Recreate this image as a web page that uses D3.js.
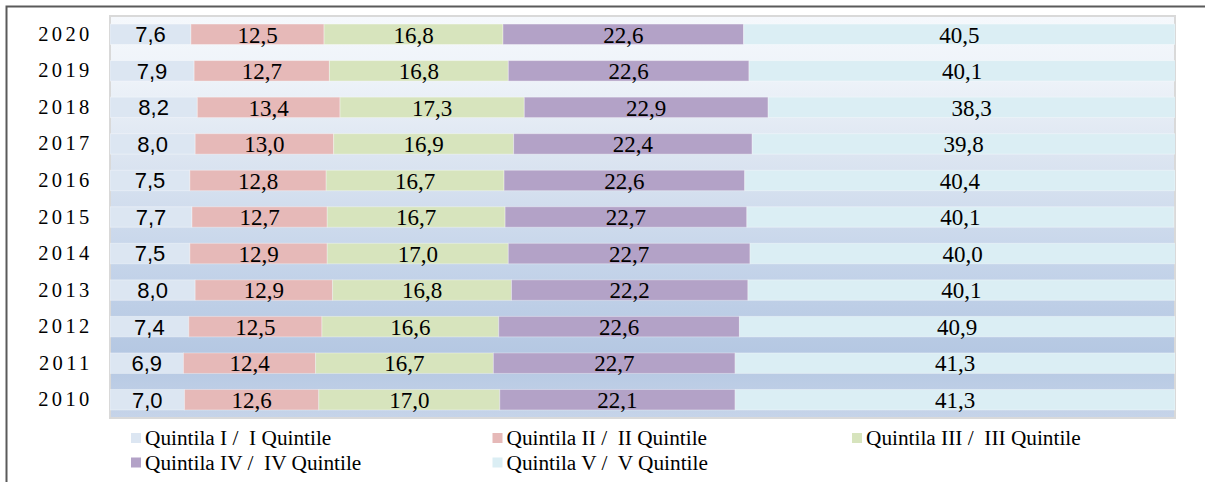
<!DOCTYPE html>
<html>
<head>
<meta charset="utf-8">
<script src="https://cdn.jsdelivr.net/npm/d3@7"></script>
<style>
  html, body { margin: 0; padding: 0; background: #ffffff; }
  svg { display: block; }
  .serif { font-family: "Liberation Serif", "Times New Roman", Times, serif; }
  .sans { font-family: "Liberation Sans", Arial, sans-serif; }
</style>
</head>
<body>
<svg id="chart" width="1205" height="482"></svg>
<script>
const years = ["2020","2019","2018","2017","2016","2015","2014","2013","2012","2011","2010"];
const q1 = [7.6, 7.9, 8.2, 8.0, 7.5, 7.7, 7.5, 8.0, 7.4, 6.9, 7.0];
const q2 = [12.5, 12.7, 13.4, 13.0, 12.8, 12.7, 12.9, 12.9, 12.5, 12.4, 12.6];
const q3 = [16.8, 16.8, 17.3, 16.9, 16.7, 16.7, 17.0, 16.8, 16.6, 16.7, 17.0];
const q4 = [22.6, 22.6, 22.9, 22.4, 22.6, 22.7, 22.7, 22.2, 22.6, 22.7, 22.1];
const q5 = [40.5, 40.1, 38.3, 39.8, 40.4, 40.1, 40.0, 40.1, 40.9, 41.3, 41.3];
const seriesNames = ["Quintila I /  I Quintile", "Quintila II /  II Quintile", "Quintila III /  III Quintile",
                     "Quintila IV /  IV Quintile", "Quintila V /  V Quintile"];
const seriesKeys = ["q1","q2","q3","q4","q5"];
const colors = ["#dce6f2", "#e6b9b8", "#d7e4bd", "#b3a2c7", "#dbeef4"];

const table = years.map((y, i) => ({year: y, q1: q1[i], q2: q2[i], q3: q3[i], q4: q4[i], q5: q5[i]}));

const svg = d3.select("#chart");
const plot = {left: 110, right: 1175, top: 16, bottom: 418};

// outer frame
svg.append("path")
  .attr("d", `M6.5,482 V6.5 H1205`)
  .attr("fill", "none").attr("stroke", "#5a5a5a").attr("stroke-width", 2);

// background gradient
const defs = svg.append("defs");
const grad = defs.append("linearGradient").attr("id", "bg").attr("x1", 0).attr("y1", 0).attr("x2", 0).attr("y2", 1);
[["0%", "#f5f8fc"], ["15%", "#eef3f9"], ["35%", "#dce5f1"], ["60%", "#c6d5ea"], ["85%", "#b4c7e2"], ["100%", "#c6d4e9"]]
  .forEach(([o, c]) => grad.append("stop").attr("offset", o).attr("stop-color", c));
defs.append("clipPath").attr("id", "clip").append("rect")
  .attr("x", plot.left).attr("y", plot.top).attr("width", plot.right - plot.left).attr("height", plot.bottom - plot.top);

svg.append("rect")
  .attr("x", plot.left).attr("y", plot.top).attr("width", plot.right - plot.left).attr("height", plot.bottom - plot.top)
  .attr("fill", "url(#bg)").attr("stroke", "#d9d9d9").attr("stroke-width", 2);

const x = d3.scaleLinear().domain([0, 100]).range([plot.left, plot.right]);
const y = d3.scaleBand().domain(years).range([plot.top, plot.bottom]).paddingInner(0.44).paddingOuter(0.22);

const stacked = d3.stack().keys(seriesKeys)(table);

const fmt = v => d3.format(".1f")(v).replace(".", ",");

const g = svg.append("g").attr("clip-path", "url(#clip)");
stacked.forEach((layer, si) => {
  g.selectAll(null).data(layer).enter().append("rect")
    .attr("x", d => x(d[0]))
    .attr("y", d => y(d.data.year))
    .attr("width", d => x(d[1]) - x(d[0]))
    .attr("height", y.bandwidth())
    .attr("fill", colors[si])
    .attr("stroke", "rgba(255,255,255,0.35)")
    .attr("stroke-width", 1);
});

// value labels
stacked.forEach((layer, si) => {
  svg.selectAll(null).data(layer).enter().append("text")
    .attr("class", si === 0 ? "sans" : "serif")
    .attr("x", d => (x(d[0]) + Math.min(x(d[1]), plot.right)) / 2)
    .attr("y", d => y(d.data.year) + y.bandwidth() / 2)
    .attr("dy", "0.36em")
    .attr("text-anchor", "middle")
    .style("font-size", si === 0 ? "22px" : "23px")
    .style("fill", "#000")
    .text(d => fmt(d.data[seriesKeys[si]]));
});

// year axis labels
const yAxis = d3.axisLeft(y).tickSize(0).tickPadding(0);
const ax = svg.append("g").attr("transform", `translate(92.5,0)`).call(yAxis);
ax.select(".domain").remove();
ax.selectAll("text")
  .attr("class", "serif")
  .style("font-size", "20.5px")
  .style("letter-spacing", "3.3px")
  .style("fill", "#000");

// legend
const legendPos = [[131, 438], [492.5, 438], [852, 438], [131, 462.5], [492.5, 462.5]];
seriesNames.forEach((name, i) => {
  const [lx, ly] = legendPos[i];
  const lg = svg.append("g").attr("transform", `translate(${lx},${ly})`);
  lg.append("rect").attr("x", 0).attr("y", -5).attr("width", 10).attr("height", 10).attr("fill", colors[i]);
  lg.append("text").attr("class", "serif").attr("x", 14).attr("y", 0).attr("dy", "0.33em")
    .style("font-size", "21.3px")
    .style("fill", "#000")
    .style("white-space", "pre")
    .text(name);
});
</script>
</body>
</html>
